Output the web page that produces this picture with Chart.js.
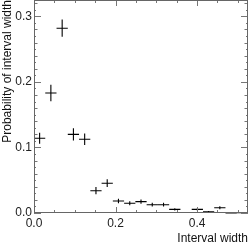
<!DOCTYPE html>
<html><head><meta charset="utf-8">
<script src="https://cdn.jsdelivr.net/npm/chart.js@4/dist/chart.umd.min.js"></script>
<style>html,body{margin:0;padding:0;background:#fff;overflow:hidden}#wrap{width:249px;height:246px}</style>
</head><body><div id="wrap"><canvas id="c" width="249" height="246"></canvas></div>
<script>
// Histogram bin centers (interval width) and bin half width
const binCenters = [0.0138, 0.0414, 0.0691, 0.0967, 0.1243, 0.1520, 0.1796, 0.2072, 0.2349, 0.2625,
                    0.2901, 0.3178, 0.3454, 0.3730, 0.4007, 0.4283, 0.4559, 0.4836, 0.5112];
const binHalfWidth = 0.0138;
// Probability of interval width
const probs = [0.114, 0.183, 0.282, 0.120, 0.1125, 0.034, 0.0455, 0.0183, 0.0148, 0.0173,
               0.0127, 0.0127, 0.0056, 0.0008, 0.0056, 0.0020, 0.0080, 0.0, 0.0005];
// Statistical errors
const errs = [0.0085, 0.0125, 0.0132, 0.0095, 0.0088, 0.0055, 0.0060, 0.0035, 0.0030, 0.0033,
              0.0028, 0.0028, 0.0018, 0.0007, 0.0018, 0.0011, 0.0022, 0.0, 0.0005];
// Axis ticks
const xMajorTicks = [0.0, 0.2, 0.4];
const xMinorStep = 0.05;
const yMajorTicks = [0.0, 0.1, 0.2, 0.3];
const yMidStep = 0.02;
const yMinorStep = 0.01;
const xRange = [0, 0.525];
const yRange = [0, 0.325];
const xTitle = 'Interval width';
const yTitle = 'Probability of interval width';

const FONT = '"Liberation Sans", Arial, Helvetica, sans-serif';

const framePlugin = {
  id: 'frame',
  afterDraw(chart) {
    const {ctx, chartArea: a, scales: {x, y}} = chart;
    ctx.save();
    ctx.strokeStyle = '#777';
    ctx.lineWidth = 1;
    ctx.beginPath();
    // x ticks bottom and top
    for (let v = xRange[0]; v <= xRange[1] + 1e-9; v += xMinorStep) {
      const isMajor = xMajorTicks.some(t => Math.abs(t - v) < 1e-6);
      const len = isMajor ? 6 : 3;
      const px = Math.round(x.getPixelForValue(v)) + 0.5;
      ctx.moveTo(px, a.bottom); ctx.lineTo(px, a.bottom - len);
      ctx.moveTo(px, a.top); ctx.lineTo(px, a.top + len);
    }
    // y ticks left and right
    for (let i = 0; i * yMinorStep <= yRange[1] + 1e-9; i++) {
      const v = i * yMinorStep;
      const isMajor = yMajorTicks.some(t => Math.abs(t - v) < 1e-6);
      const isMid = Math.abs(v / yMidStep - Math.round(v / yMidStep)) < 1e-6;
      const len = isMajor ? 7 : (isMid ? 3.5 : 2);
      const py = Math.round(y.getPixelForValue(v)) + 0.5;
      ctx.moveTo(a.left, py); ctx.lineTo(a.left + len, py);
      ctx.moveTo(a.right, py); ctx.lineTo(a.right - len, py);
    }
    ctx.stroke();
    ctx.strokeStyle = '#666';
    ctx.strokeRect(a.left + 0.5, a.top + 0.5, a.right - a.left - 1, a.bottom - a.top - 1);
    ctx.restore();
  }
};

const errPlugin = {
  id: 'errbars',
  afterDatasetsDraw(chart) {
    const {ctx, scales: {x, y}} = chart;
    ctx.save();
    ctx.strokeStyle = '#000';
    ctx.lineWidth = 1.1;
    ctx.beginPath();
    binCenters.forEach((c, i) => {
      const px = x.getPixelForValue(c);
      const py = y.getPixelForValue(probs[i]);
      const x0 = x.getPixelForValue(c - binHalfWidth);
      const x1 = x.getPixelForValue(c + binHalfWidth);
      ctx.moveTo(x0, py); ctx.lineTo(x1, py);
      if (errs[i] > 0) {
        ctx.moveTo(px, y.getPixelForValue(probs[i] - errs[i]));
        ctx.lineTo(px, y.getPixelForValue(probs[i] + errs[i]));
      }
    });
    ctx.stroke();
    ctx.restore();
  }
};

new Chart(document.getElementById('c'), {
  type: 'scatter',
  data: {
    datasets: [{
      data: binCenters.map((c, i) => ({x: c, y: probs[i]})),
      pointRadius: 0,
      showLine: false
    }]
  },
  options: {
    responsive: false,
    animation: false,
    devicePixelRatio: 1,
    layout: {padding: {left: 0, right: 1, top: 0, bottom: 0}},
    plugins: {legend: {display: false}, tooltip: {enabled: false}},
    scales: {
      x: {
        type: 'linear', min: xRange[0], max: xRange[1],
        grid: {display: false, drawTicks: false},
        border: {display: false},
        ticks: {
          stepSize: 0.2, includeBounds: false, maxRotation: 0, autoSkip: false,
          callback: v => v.toFixed(1),
          font: {family: FONT, size: 12}, color: '#222', padding: 3
        },
        title: {display: true, text: xTitle, align: 'end', color: '#111',
                font: {family: FONT, size: 12}, padding: {top: 0, bottom: 0}},
        afterFit: s => { s.height = 33; s.paddingLeft = 0; s.paddingRight = 0; }
      },
      y: {
        type: 'linear', min: yRange[0], max: yRange[1],
        grid: {display: false, drawTicks: false},
        border: {display: false},
        ticks: {
          stepSize: 0.1, includeBounds: false, autoSkip: false,
          callback: v => v.toFixed(1),
          font: {family: FONT, size: 12}, color: '#222', padding: 2
        },
        title: {display: true, text: yTitle, align: 'end', color: '#111',
                font: {family: FONT, size: 12}, padding: {top: 0, bottom: 0}},
        afterFit: s => { s.width = 34; s.paddingTop = 0; s.paddingBottom = 0; }
      }
    }
  },
  plugins: [framePlugin, errPlugin]
});
</script>
</body></html>
